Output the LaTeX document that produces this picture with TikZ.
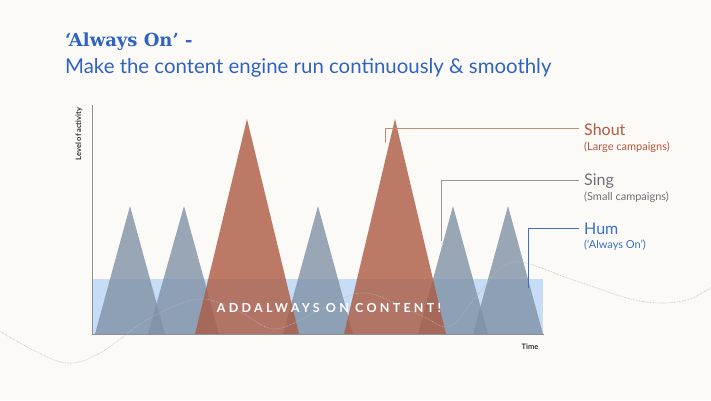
\documentclass[tikz,border=0pt]{standalone}
\usepackage{fontspec}
\setmainfont{Lato}
\newfontfamily\titlefont{DejaVu Serif}
\newfontfamily\spacedfont[LetterSpace=26]{Lato}
\definecolor{bgc}{HTML}{FCFAF6}
\definecolor{titleblue}{HTML}{2F63C2}
\definecolor{rectblue}{HTML}{C7DCF5}
\definecolor{greyc}{HTML}{7F92A6}
\definecolor{redc}{HTML}{AD5B42}
\definecolor{shoutc}{HTML}{B5573F}
\definecolor{shoutline}{HTML}{C98A78}
\definecolor{singc}{HTML}{6E7276}
\definecolor{singline}{HTML}{959799}
\definecolor{humc}{HTML}{3A70C8}
\definecolor{axisc}{HTML}{8C8F94}
\tikzset{
  greytri/.style={fill=greyc, fill opacity=0.8},
  redtri/.style={fill=redc, fill opacity=0.8},
  axisline/.style={draw=axisc, line width=0.9pt},
  wave/.style={draw=gray!55, densely dotted, line width=0.6pt},
  callout/.style={line width=0.9pt},
  bigname/.style={anchor=base west, inner sep=0pt, font=\fontsize{16}{18}\selectfont},
  smallname/.style={anchor=base west, inner sep=0pt, font=\fontsize{11}{13}\selectfont},
  axislabel/.style={inner sep=0pt, text=black!80, font=\fontsize{7.5}{9}\selectfont\bfseries}
}
\begin{document}
\begin{tikzpicture}[x=1pt,y=-1pt]
\fill[bgc] (0,0) rectangle (711,400);
\useasboundingbox (0,0) rectangle (711,400);

% title
\node[anchor=base west, inner sep=0pt, text=titleblue, font=\titlefont\bfseries\fontsize{18}{20}\selectfont] (title) at (65,46) {‘Always On’ -};
\node[anchor=base west, inner sep=0pt, text=titleblue, font=\fontsize{20.4}{22}\selectfont] (subtitle) at (65,73) {Make the content engine run continuously \& smoothly};

% always-on band
\fill[rectblue] (92,279) rectangle (543,334);

% small campaigns
\fill[greytri] (95,334) -- (130,206) -- (165,334) -- cycle;
\fill[greytri] (148,334) -- (184,206) -- (219,334) -- cycle;
\fill[greytri] (283,334) -- (318,206) -- (353,334) -- cycle;
\fill[greytri] (418,334) -- (453,206) -- (488,334) -- cycle;
\fill[greytri] (473,334) -- (508,206) -- (543,334) -- cycle;
% large campaigns
\fill[redtri] (195,334) -- (247,119) -- (299,334) -- cycle;
\fill[redtri] (344,334) -- (395,119) -- (446,334) -- cycle;

% wave
\draw[wave] plot[smooth, tension=0.6] coordinates {(-2,330) (33,350) (67,363) (100,353) (150,318) (200,299) (240,312) (275,329) (320,310) (365,293) (420,315) (450,326) (480,292) (513,262) (573,280) (627,298) (660,303) (690,299) (713,286)};

% band text
\node[inner sep=0pt, text=white, font=\spacedfont\bfseries\fontsize{12.5}{14}\selectfont] (bandtext) at (329,308) {ADDALWAYS ON CONTENT!};

% axes
\coordinate (origin) at (92,334);
\coordinate (ytop) at (92,105);
\coordinate (xend) at (544,334);
\draw[axisline] (ytop) -- (origin) -- (xend);
\node[axislabel, rotate=90] (ylabel) at (79,134) {Level of activity};
\node[axislabel] (xlabel) at (530,347) {Time};

% labels
\node[bigname, text=shoutc] (shout) at (584,135) {Shout};
\node[smallname, text=shoutc] (shoutsub) at (584,150) {(Large campaigns)};
\node[bigname, text=singc] (sing) at (584,185) {Sing};
\node[smallname, text=singc] (singsub) at (584,200) {(Small campaigns)};
\node[bigname, text=humc] (hum) at (584,234) {Hum};
\node[smallname, text=humc] (humsub) at (584,248) {(‘Always On’)};

% callouts
\coordinate (shoutfoot) at (385,143);
\coordinate (shoutend) at (579,128);
\coordinate (singfoot) at (441,241);
\coordinate (singend) at (579,180);
\coordinate (humfoot) at (528,288);
\coordinate (humend) at (579,228);
\draw[callout, shoutline] (shoutfoot) |- (shoutend);
\draw[callout, singline] (singfoot) |- (singend);
\draw[callout, humc] (humfoot) |- (humend);
\end{tikzpicture}
\end{document}
